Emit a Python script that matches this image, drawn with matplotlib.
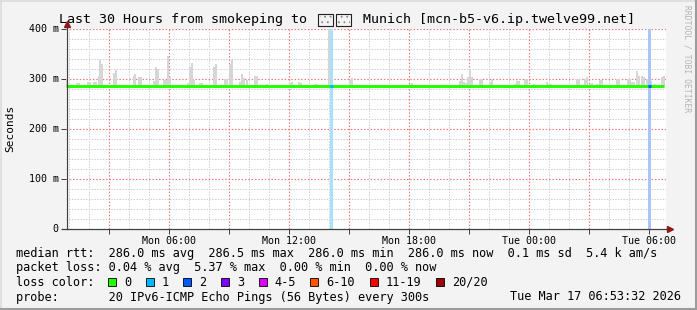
import numpy as np
import matplotlib
matplotlib.use('Agg')
import matplotlib.pyplot as plt
from matplotlib.ticker import MultipleLocator, FuncFormatter
from matplotlib.patches import Rectangle
from matplotlib.lines import Line2D

# --- data (hours since Mon 00:00, ms) ---
t_start = 0.892          # Mon 00:53:32
t_span = 30.0
median_t = [0.89, 30.79]
median_rtt = [286.0, 286.0]

smoke_t = [0.89, 1.39, 1.49, 1.94, 2.04, 2.24, 2.34, 2.49, 2.54, 2.64, 3.24, 3.34,
           4.24, 4.29, 4.49, 4.59, 5.24, 5.34, 5.44, 5.74, 5.84, 5.94, 6.04,
           6.94, 7.04, 7.14, 7.24, 7.54, 7.64, 8.24, 8.34, 8.79, 8.89, 9.04, 9.14,
           9.54, 9.64, 9.74, 9.89, 10.29, 10.39, 10.89, 12.04, 12.14, 12.49, 12.59,
           13.29, 13.39, 13.99, 15.04, 15.14, 18.04, 18.14, 20.54, 20.64, 20.74,
           20.84, 20.94, 21.04, 21.14, 21.54, 21.64, 22.04, 22.14, 23.29, 23.39,
           23.49, 23.79, 23.89, 24.24, 24.89, 24.99, 25.09, 26.39, 26.49, 26.79,
           26.89, 27.04, 27.14, 27.39, 27.49, 27.54, 27.64, 28.39, 28.49, 28.94,
           29.04, 29.14, 29.24, 29.39, 29.49, 29.64, 29.74, 29.89, 29.99, 30.09,
           30.29, 30.64, 30.74]
smoke_top = [300, 292, 292, 294, 294, 294, 294, 306, 338, 330, 312, 318,
             306, 310, 304, 304, 296, 324, 320, 298, 298, 345, 304,
             292, 324, 332, 298, 292, 292, 324, 330, 300, 300, 330, 338,
             294, 310, 302, 298, 306, 306, 290, 292, 294, 294, 292,
             290, 290, 400, 298, 302, 290, 292, 296, 310, 294,
             292, 304, 320, 304, 300, 300, 294, 300, 290, 296,
             296, 300, 300, 290, 294, 290, 290, 300, 300, 300,
             304, 290, 292, 290, 290, 298, 298, 300, 300, 300,
             300, 294, 294, 316, 306, 306, 304, 300, 296, 296,
             290, 304, 306]

loss_t = [14.07, 29.97]
loss_bg = ['#a6e2fb', '#a9c5fb']
loss_line = ['#00b8ff', '#0059ff']

tick_labels = {6: 'Mon 06:00', 12: 'Mon 12:00', 18: 'Mon 18:00', 24: 'Tue 00:00', 30: 'Tue 06:00'}

lc_labels = ['0', '1', '2', '3', '4-5', '6-10', '11-19', '20/20']
lc_colors = ['#26ff00', '#00b8ff', '#0059ff', '#7e00ff', '#dd00ff', '#ff5500', '#ff0000', '#a10000']

# the flag (regional indicators D, E) has no glyph in any installed font,
# the reference shows it as two "missing glyph" boxes, drawn here as shapes
title_left = 'Last 30 Hours from smokeping to '
title_right = ' Munich [mcn-b5-v6.ip.twelve99.net]'
row1 = 'median rtt:  286.0 ms avg  286.5 ms max  286.0 ms min  286.0 ms now  0.1 ms sd  5.4 k am/s'
row2 = 'packet loss: 0.04 % avg  5.37 % max  0.00 % min  0.00 % now'
row4 = 'probe:       20 IPv6-ICMP Echo Pings (56 Bytes) every 300s'
stamp = 'Tue Mar 17 06:53:32 2026'

# --- layout ---
plt.rcParams['font.family'] = ['DejaVu Sans Mono', 'DejaVu Sans']
plt.rcParams['hatch.linewidth'] = 0.6
W, H = 697, 310
fig = plt.figure(figsize=(W / 100, H / 100), dpi=100, facecolor='#f3f3f3')

def fx(px):
    return px / W

def fy(py):
    return 1 - py / H

# frame
fig.add_artist(Line2D([0, 1], [fy(0.5), fy(0.5)], color='#dcdcdc', lw=1.2))
fig.add_artist(Line2D([fx(0.5), fx(0.5)], [0, 1], color='#dcdcdc', lw=1.2))
fig.add_artist(Line2D([0, 1], [fy(309), fy(309)], color='#9c9c9c', lw=1.5))
fig.add_artist(Line2D([fx(696), fx(696)], [0, 1], color='#9c9c9c', lw=1.5))

# plot area: 20 px per hour, 50 px per 100 ms
left_px, top_px, bot_px = 66.34, 28.5, 228.5
ax = fig.add_axes([fx(left_px), fy(bot_px), 600 / W, (bot_px - top_px) / H])
ax.set_facecolor('white')
ax.set_xlim(t_start, t_start + t_span)
ax.set_ylim(0, 400)
for s in ax.spines.values():
    s.set_visible(False)

ax.xaxis.set_major_locator(MultipleLocator(3))
ax.yaxis.set_major_locator(MultipleLocator(100))
ax.xaxis.set_major_formatter(FuncFormatter(lambda v, p: tick_labels.get(int(round(v)), '') if abs(v - round(v)) < 1e-6 else ''))
ax.yaxis.set_major_formatter(FuncFormatter(lambda v, p: '0' if v == 0 else '%d m' % v))
ax.tick_params(which='major', length=3.5, width=0.72, color='#404040', labelsize=7.2, pad=2)

# grid: grey dotted every hour / 20 ms, red dotted every 3 h / 100 ms
for h in range(1, 31):
    if h % 3:
        ax.axvline(h, color='#cfcfcf', lw=0.72, ls=(0, (1.4, 1.4)), zorder=0.5)
    else:
        ax.axvline(h, color='#f07a7a', lw=0.85, ls=(0, (1.25, 1.55)), zorder=0.6)
for v in range(20, 401, 20):
    if v % 100:
        ax.axhline(v, color='#cfcfcf', lw=0.72, ls=(0, (1.4, 1.4)), zorder=0.5)
    else:
        ax.axhline(v, color='#f07a7a', lw=0.85, ls=(0, (1.25, 1.55)), zorder=0.6)

# smoke
ax.bar(smoke_t, np.array(smoke_top) - median_rtt[0], bottom=median_rtt[0], width=0.1,
       align='edge', color='#d6d6d6', lw=0, zorder=2)
# loss background
for t, c in zip(loss_t, loss_bg):
    ax.axvspan(t, t + 0.15, color=c, lw=0, zorder=2.5)
# median
ax.plot(median_t, median_rtt, color='#26ff00', lw=2.2, solid_capstyle='butt', zorder=3)
for t, c in zip(loss_t, loss_line):
    ax.plot([t, t + 0.15], [286, 286], color=c, lw=2.2, solid_capstyle='butt', zorder=3.5)

# axis lines with arrows
fig.add_artist(Line2D([fx(62), fx(670)], [fy(bot_px), fy(bot_px)], color='#404040', lw=0.9, zorder=4))
fig.add_artist(Line2D([fx(66.5), fx(66.5)], [fy(bot_px), fy(24)], color='#404040', lw=0.9, zorder=4))
fig.add_artist(Line2D([fx(670)], [fy(bot_px)], marker='>', ms=4.5, color='#8b1a1a', zorder=5))
fig.add_artist(Line2D([fx(66.5)], [fy(24)], marker='^', ms=4.5, color='#8b1a1a', zorder=5))

# title
fig.text(fx(59), fy(19), title_left, ha='left', va='center', fontsize=9.6)
for bx in (318, 336):
    fig.add_artist(Rectangle((fx(bx + 1.5), fy(24.5)), 12 / W, 9 / H, transform=fig.transFigure,
                             facecolor='none', edgecolor='#8a8a8a', lw=0, hatch='...'))
    fig.add_artist(Rectangle((fx(bx), fy(26)), 15 / W, 12 / H, transform=fig.transFigure,
                             facecolor='none', edgecolor='#202020', lw=0.8))
fig.text(fx(355), fy(19), title_right, ha='left', va='center', fontsize=9.6)

fig.text(fx(10), fy(128), 'Seconds', rotation=90, ha='center', va='center', fontsize=8)
fig.text(fx(687), fy(5), 'RRDTOOL / TOBI OETIKER', rotation=270, ha='center', va='top',
         fontsize=5.8, color='#b4b4b4')

fs = 8.54
fig.text(fx(16), fy(254), row1, ha='left', va='center', fontsize=fs)
fig.text(fx(16), fy(268), row2, ha='left', va='center', fontsize=fs)
fig.text(fx(16), fy(282), 'loss color:', ha='left', va='center', fontsize=fs)
fig.text(fx(16), fy(297), row4, ha='left', va='center', fontsize=fs)
fig.text(fx(681), fy(297), stamp, ha='right', va='center', fontsize=fs)

x = 108.0
for lab, col in zip(lc_labels, lc_colors):
    fig.add_artist(Rectangle((fx(x), fy(286)), 8 / W, 8 / H, transform=fig.transFigure,
                             facecolor=col, edgecolor='black', lw=0.6))
    fig.text(fx(x + 16), fy(282), lab, ha='left', va='center', fontsize=fs)
    x += 30.5 + 7.14 * len(lab)

fig.savefig('out.png', dpi=100, facecolor=fig.get_facecolor())
